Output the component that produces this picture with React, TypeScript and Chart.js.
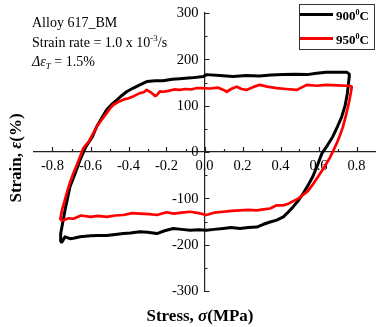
import React, { useEffect, useRef } from "react";
import { Chart, registerables } from "chart.js";

Chart.register(...registerables);

// ---- data ----
const series900Label = "900";
const series950Label = "950";

const x900 = [
  -0.76, -0.757, -0.745, -0.734, -0.708, -0.68, -0.655, -0.625, -0.59, -0.567, -0.54, -0.515, -0.49, -0.462, -0.435,
  -0.41, -0.375, -0.34, -0.304, -0.26, -0.218, -0.17, -0.13, -0.07, -0.005, 0.01, 0.08, 0.15, 0.22, 0.29, 0.35,
  0.415, 0.48, 0.54, 0.59, 0.64, 0.7, 0.75, 0.762, 0.762, 0.752, 0.74, 0.722, 0.7, 0.675, 0.648, 0.618, 0.595,
  0.57, 0.545, 0.52, 0.495, 0.467, 0.44, 0.415, 0.38, 0.345, 0.31, 0.275, 0.23, 0.187, 0.14, 0.099, 0.05, 0.01,
  -0.03, -0.076, -0.12, -0.164, -0.21, -0.25, -0.3, -0.34, -0.39, -0.427, -0.47, -0.515, -0.56, -0.6, -0.655,
  -0.69, -0.708, -0.734, -0.75, -0.76,
];
const y900 = [
  -194, -176, -150, -125, -75, -45, -17, 11, 33, 55, 74, 91, 102, 112, 122,
  130, 138, 145, 152, 154, 154, 157, 158, 160, 163, 167, 165, 163, 165, 164, 166,
  167, 168, 167, 170, 172, 172, 172, 168, 163, 127, 100, 76, 55, 33, 15, -3, -28,
  -53, -72, -89, -104, -118, -130, -140, -147, -151, -156, -162, -163, -165, -163, -165, -167, -169,
  -168, -169, -167, -165, -170, -176, -173, -172, -175, -176, -178, -180, -180, -181, -183,
  -186, -187, -183, -194, -194,
];

const x950 = [
  -0.76, -0.75, -0.738, -0.725, -0.708, -0.69, -0.672, -0.655, -0.638, -0.625, -0.61, -0.59, -0.567, -0.54, -0.515,
  -0.497, -0.48, -0.455, -0.427, -0.4, -0.375, -0.34, -0.32, -0.304, -0.28, -0.26, -0.25, -0.235, -0.217, -0.19,
  -0.16, -0.13, -0.1, -0.07, -0.04, -0.02, 0.03, 0.07, 0.1, 0.117, 0.145, 0.17, 0.195, 0.22, 0.255, 0.29, 0.33,
  0.38, 0.43, 0.485, 0.515, 0.54, 0.59, 0.64, 0.7, 0.75, 0.77, 0.775, 0.77, 0.762, 0.752, 0.74, 0.727, 0.712,
  0.695, 0.678, 0.66, 0.63, 0.6, 0.57, 0.545, 0.52, 0.495, 0.467, 0.44, 0.415, 0.38, 0.345, 0.31, 0.275, 0.23,
  0.187, 0.14, 0.099, 0.05, 0.01, -0.03, -0.076, -0.12, -0.164, -0.2, -0.25, -0.29, -0.34, -0.38, -0.427, -0.47,
  -0.515, -0.56, -0.6, -0.65, -0.69, -0.715, -0.74, -0.76,
];
const y950 = [
  -147, -125, -108, -89, -66, -46, -28, -10, 8, 15, 22, 37, 55, 70, 84,
  94, 102, 108, 113, 116, 120, 127, 129, 134, 128, 121, 123, 131, 130, 132,
  135, 134, 136, 135, 138, 138, 137, 139, 134, 130, 137, 141, 136, 134, 140, 145, 141,
  138, 136, 134, 140, 145, 143, 145, 144, 143, 142, 141, 128, 110, 92, 72, 52, 35,
  18, 3, -12, -33, -52, -70, -84, -92, -100, -106, -112, -115, -115, -122, -124, -126, -125,
  -126, -127, -129, -131, -136, -132, -129, -131, -133, -130, -136, -134, -133, -132, -136, -137,
  -140, -138, -140, -137, -144, -143, -147, -147,
];

const xTickValues = [-0.8, -0.6, -0.4, -0.2, 0, 0.2, 0.4, 0.6, 0.8];
const xMinorTicks = [-0.7, -0.5, -0.3, -0.1, 0.1, 0.3, 0.5, 0.7];
const yTickValues = [-300, -200, -100, 0, 100, 200, 300];
const yMinorTicks = [-250, -150, -50, 50, 150, 250];

const SERIF = '"Liberation Serif", "Times New Roman", serif';

type Run = { text: string; font: string; dy?: number };

function drawRuns(ctx: CanvasRenderingContext2D, x: number, y: number, runs: Run[], align: "left" | "center" = "left") {
  let total = 0;
  for (const r of runs) {
    ctx.font = r.font;
    total += ctx.measureText(r.text).width;
  }
  let cx = align === "center" ? x - total / 2 : x;
  ctx.textAlign = "left";
  ctx.textBaseline = "alphabetic";
  for (const r of runs) {
    ctx.font = r.font;
    ctx.fillText(r.text, cx, y + (r.dy || 0));
    cx += ctx.measureText(r.text).width;
  }
}

const overlay = {
  id: "overlay",
  afterDraw(chart: any) {
    const ctx: CanvasRenderingContext2D = chart.ctx;
    const xs = chart.scales.x;
    const ys = chart.scales.y;
    const x0 = xs.getPixelForValue(0);
    const y0 = ys.getPixelForValue(0);
    ctx.save();
    // tick marks (inward)
    ctx.strokeStyle = "#222";
    ctx.lineWidth = 1.2;
    ctx.beginPath();
    for (const v of xTickValues) {
      const px = Math.round(xs.getPixelForValue(v)) + 0.5;
      ctx.moveTo(px, y0);
      ctx.lineTo(px, y0 - 5);
    }
    for (const v of xMinorTicks) {
      const px = Math.round(xs.getPixelForValue(v)) + 0.5;
      ctx.moveTo(px, y0);
      ctx.lineTo(px, y0 - 3);
    }
    for (const v of yTickValues) {
      const py = Math.round(ys.getPixelForValue(v)) + 0.5;
      ctx.moveTo(x0, py);
      ctx.lineTo(x0 + 5, py);
    }
    for (const v of yMinorTicks) {
      const py = Math.round(ys.getPixelForValue(v)) + 0.5;
      ctx.moveTo(x0, py);
      ctx.lineTo(x0 + 3, py);
    }
    ctx.stroke();

    ctx.fillStyle = "#000";
    // y tick labels (left of the centred axis)
    ctx.font = `14.5px ${SERIF}`;
    ctx.textAlign = "right";
    ctx.textBaseline = "middle";
    for (const v of yTickValues) {
      ctx.fillText(String(v), x0 - 6, ys.getPixelForValue(v) + 0.5);
    }

    // annotation
    const f14 = `14px ${SERIF}`;
    const f9 = `9px ${SERIF}`;
    drawRuns(ctx, 32, 27, [{ text: "Alloy 617_BM", font: f14 }]);
    drawRuns(ctx, 32, 47, [
      { text: "Strain rate = 1.0 x 10", font: f14 },
      { text: "-3", font: f9, dy: -6 },
      { text: "/s", font: f14 },
    ]);
    drawRuns(ctx, 32, 66, [
      { text: "\u0394\u03b5", font: `italic 14px ${SERIF}` },
      { text: "T", font: `italic 9px ${SERIF}`, dy: 3 },
      { text: " = 1.5%", font: f14 },
    ]);

    // legend
    ctx.strokeStyle = "#333";
    ctx.lineWidth = 1;
    ctx.strokeRect(299.5, 4.5, 75, 45);
    ctx.lineCap = "butt";
    ctx.lineWidth = 3;
    ctx.strokeStyle = "#000";
    ctx.beginPath();
    ctx.moveTo(300, 14.5);
    ctx.lineTo(333, 14.5);
    ctx.stroke();
    ctx.strokeStyle = "#ff0000";
    ctx.beginPath();
    ctx.moveTo(300, 38.5);
    ctx.lineTo(333, 38.5);
    ctx.stroke();
    const fb = `bold 13px ${SERIF}`;
    const fbs = `bold 8px ${SERIF}`;
    drawRuns(ctx, 336, 19.5, [
      { text: series900Label, font: fb },
      { text: "0", font: fbs, dy: -5 },
      { text: "C", font: fb },
    ]);
    drawRuns(ctx, 336, 43.5, [
      { text: series950Label, font: fb },
      { text: "0", font: fbs, dy: -5 },
      { text: "C", font: fb },
    ]);

    // axis titles
    const ft = `bold 17px ${SERIF}`;
    const fti = `bold italic 17px ${SERIF}`;
    drawRuns(ctx, 200, 321, [
      { text: "Stress, ", font: ft },
      { text: "\u03c3", font: fti },
      { text: "(MPa)", font: ft },
    ], "center");
    ctx.save();
    ctx.translate(21, 158);
    ctx.rotate(-Math.PI / 2);
    drawRuns(ctx, 0, 0, [
      { text: "Strain, ", font: ft },
      { text: "\u03b5", font: fti },
      { text: "(%)", font: ft },
    ], "center");
    ctx.restore();
    ctx.restore();
  },
};

export default function App() {
  const ref = useRef<HTMLCanvasElement | null>(null);
  useEffect(() => {
    if (!ref.current) return;
    const tickFont = { family: SERIF, size: 14.5 };
    const chart = new Chart(ref.current, {
      type: "line",
      data: {
        datasets: [
          {
            label: "900",
            data: x900.map((x, i) => ({ x, y: y900[i] })),
            borderColor: "#000000",
            borderWidth: 3,
            pointRadius: 0,
            tension: 0,
            fill: false,
            order: 2,
            borderJoinStyle: "round",
          },
          {
            label: "950",
            data: x950.map((x, i) => ({ x, y: y950[i] })),
            borderColor: "#ff0000",
            borderWidth: 2.7,
            pointRadius: 0,
            tension: 0,
            fill: false,
            order: 1,
            borderJoinStyle: "round",
          },
        ],
      },
      options: {
        animation: false,
        responsive: true,
        maintainAspectRatio: false,
        layout: { padding: { left: 33.5, right: 0.5, top: 13, bottom: 36 } },
        plugins: { legend: { display: false }, tooltip: { enabled: false } },
        scales: {
          x: {
            type: "linear",
            min: -0.9,
            max: 0.9,
            position: { y: 0 } as any,
            afterFit: (s: any) => {
              s.height = 0;
            },
            afterBuildTicks: (s: any) => {
              s.ticks = xTickValues.map((v) => ({ value: v }));
            },
            grid: { drawOnChartArea: false, drawTicks: false },
            border: { color: "#222", width: 1.2 },
            ticks: {
              padding: 5,
              font: tickFont,
              color: "#000",
              maxRotation: 0,
              autoSkip: false,
              callback: (v: any) => Number(v).toFixed(1),
            },
          },
          y: {
            type: "linear",
            min: -300,
            max: 300,
            position: { x: 0 } as any,
            afterFit: (s: any) => {
              s.width = 0;
            },
            afterBuildTicks: (s: any) => {
              s.ticks = yTickValues.map((v) => ({ value: v }));
            },
            grid: { drawOnChartArea: false, drawTicks: false },
            border: { color: "#222", width: 1.2 },
            ticks: { display: false },
          },
        },
      },
      plugins: [overlay],
    });
    return () => chart.destroy();
  }, []);
  return (
    <div style={{ position: "fixed", left: 0, top: 0, width: 376, height: 327, background: "#fff" }}>
      <canvas ref={ref} />
    </div>
  );
}
